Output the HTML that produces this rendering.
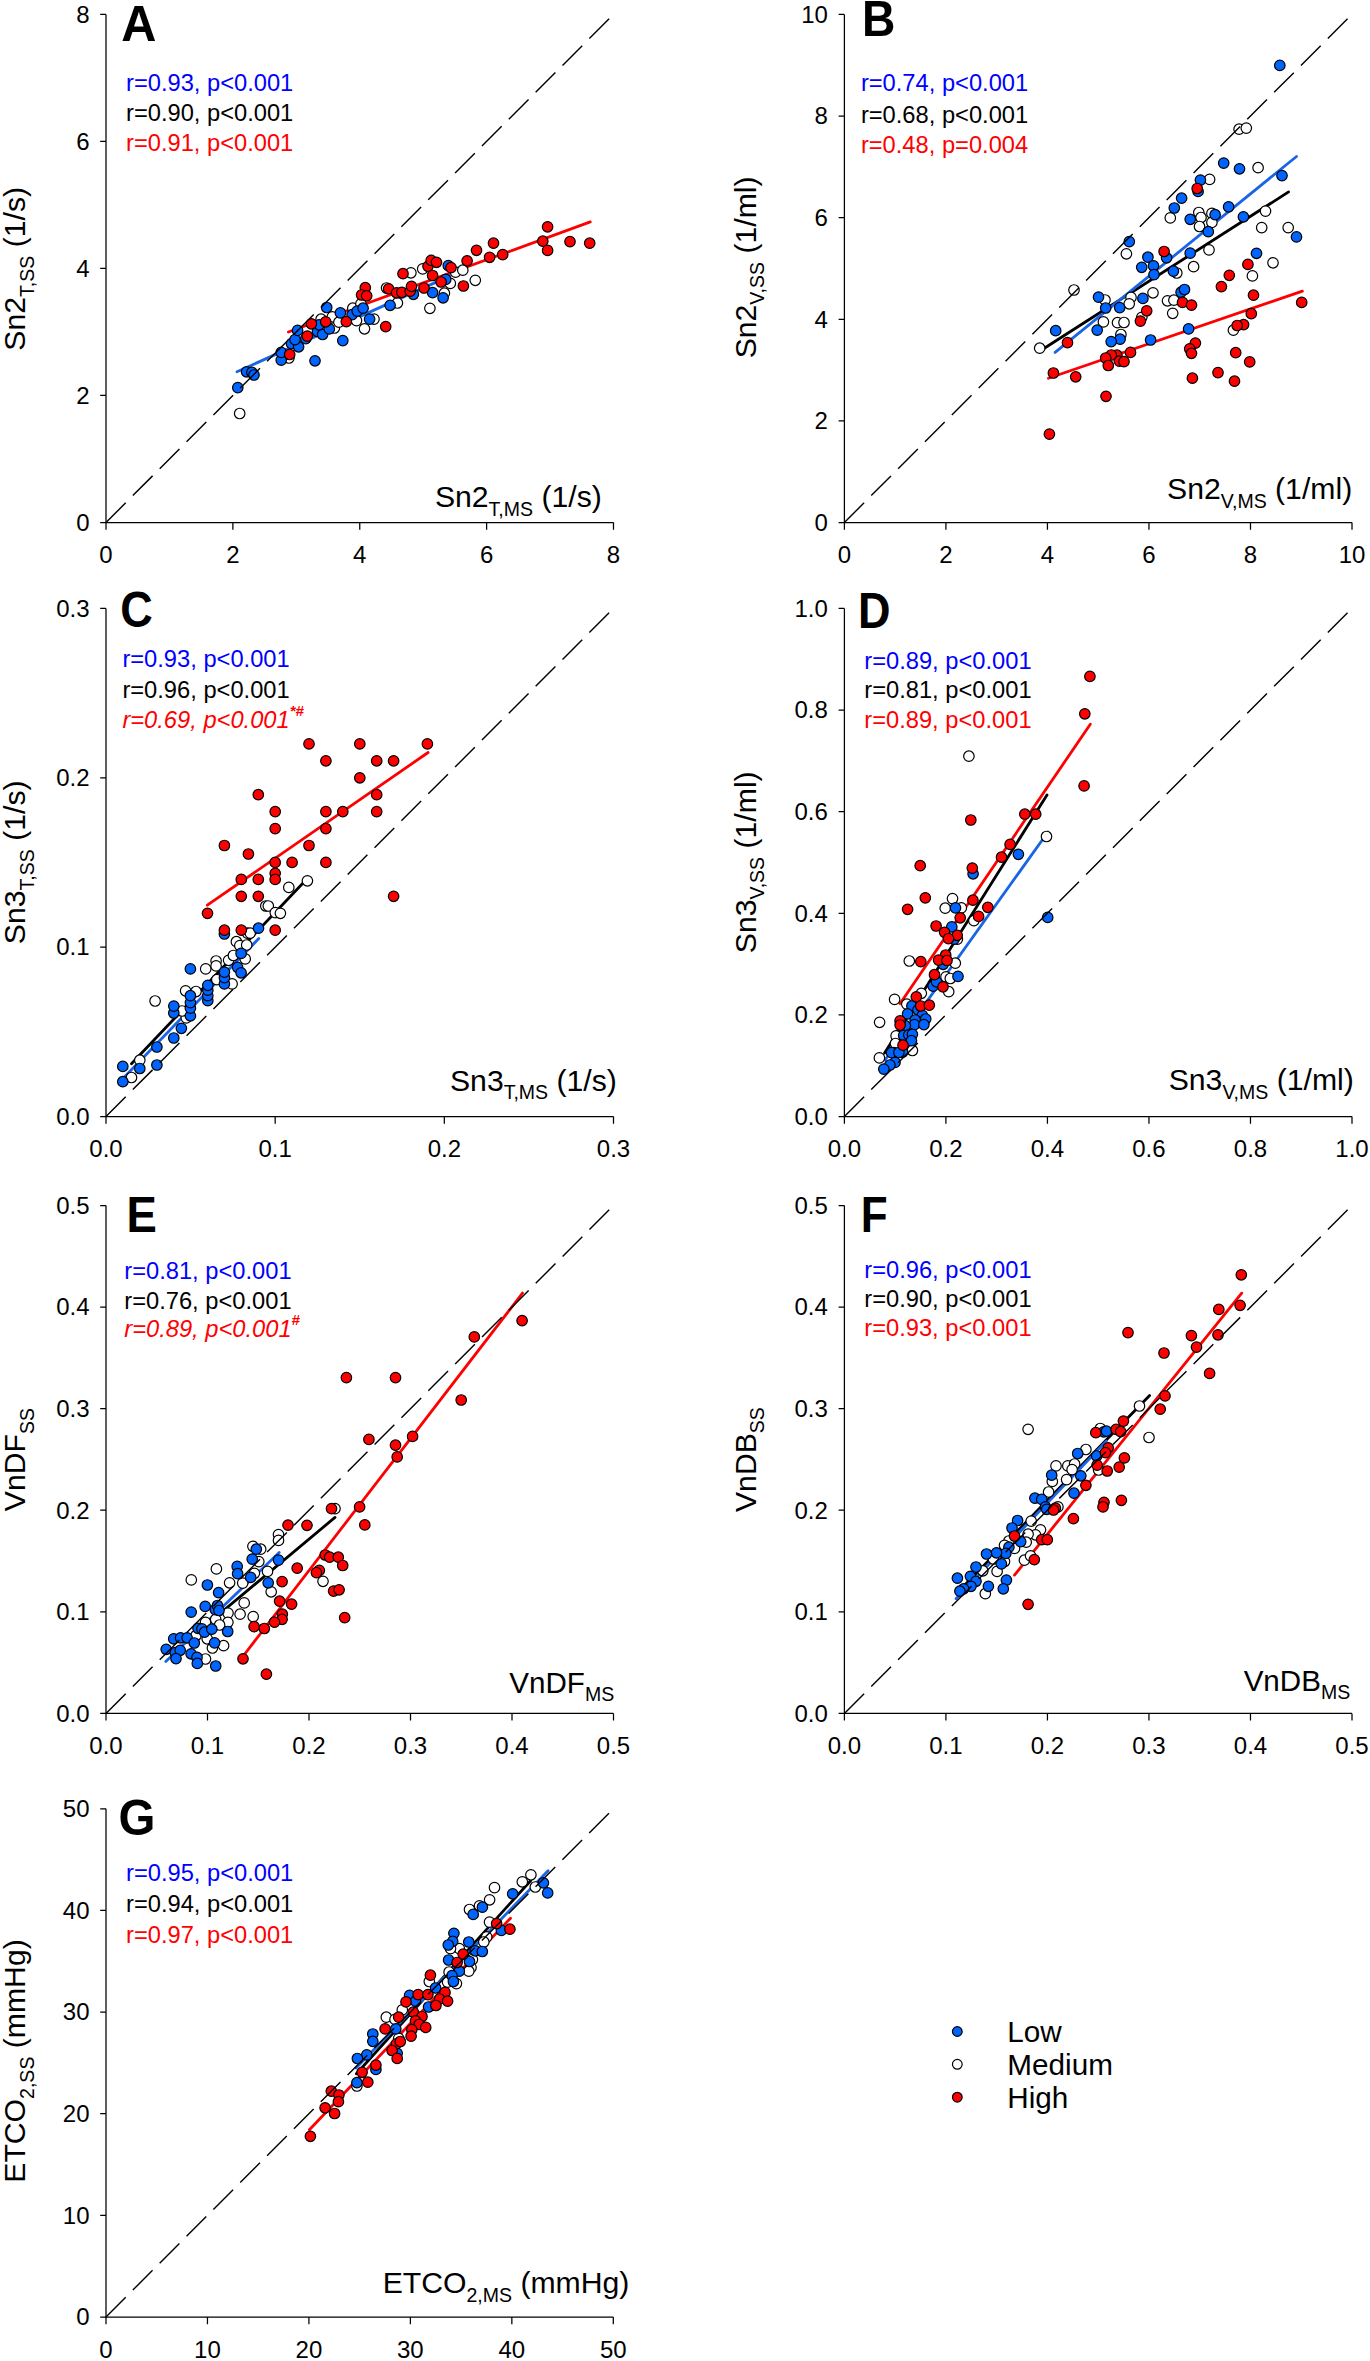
<!DOCTYPE html>
<html><head><meta charset="utf-8"><style>
html,body{margin:0;padding:0;background:#fff;}
svg{display:block;}
text{font-family:"Liberation Sans", sans-serif;}
</style></head><body>
<svg width="1370" height="2361" viewBox="0 0 1370 2361" font-family='"Liberation Sans", sans-serif'>
<rect width="1370" height="2361" fill="#fff"/>
<path d="M106.00,14.40V522.50H613.50" fill="none" stroke="#000" stroke-width="1.25"/>
<path d="M106.00,522.50v7.2M232.88,522.50v7.2M359.75,522.50v7.2M486.62,522.50v7.2M613.50,522.50v7.2M106.00,522.50h-5.8M106.00,395.48h-5.8M106.00,268.45h-5.8M106.00,141.42h-5.8M106.00,14.40h-5.8" stroke="#000" stroke-width="1.25" fill="none"/>
<text x="106.00" y="563.00" text-anchor="middle" font-size="24">0</text>
<text x="232.88" y="563.00" text-anchor="middle" font-size="24">2</text>
<text x="359.75" y="563.00" text-anchor="middle" font-size="24">4</text>
<text x="486.62" y="563.00" text-anchor="middle" font-size="24">6</text>
<text x="613.50" y="563.00" text-anchor="middle" font-size="24">8</text>
<text x="89.50" y="530.80" text-anchor="end" font-size="24">0</text>
<text x="89.50" y="403.78" text-anchor="end" font-size="24">2</text>
<text x="89.50" y="276.75" text-anchor="end" font-size="24">4</text>
<text x="89.50" y="149.72" text-anchor="end" font-size="24">6</text>
<text x="89.50" y="22.70" text-anchor="end" font-size="24">8</text>
<line x1="237.00" y1="371.80" x2="449.60" y2="276.10" stroke="#1a64e6" stroke-width="2.8" stroke-linecap="round"/>
<line x1="288.40" y1="332.00" x2="590.30" y2="221.90" stroke="#ff0000" stroke-width="2.8" stroke-linecap="round"/>
<g stroke="#000" stroke-width="1.2"><circle cx="239.7" cy="413.5" r="5.25" fill="#fff"/><circle cx="288.9" cy="358.0" r="5.25" fill="#fff"/><circle cx="321.1" cy="319.2" r="5.25" fill="#fff"/><circle cx="332.3" cy="316.8" r="5.25" fill="#fff"/><circle cx="334.4" cy="328.0" r="5.25" fill="#fff"/><circle cx="338.9" cy="322.2" r="5.25" fill="#fff"/><circle cx="352.8" cy="308.2" r="5.25" fill="#fff"/><circle cx="356.5" cy="320.6" r="5.25" fill="#fff"/><circle cx="360.9" cy="303.8" r="5.25" fill="#fff"/><circle cx="374.0" cy="319.1" r="5.25" fill="#fff"/><circle cx="364.5" cy="328.8" r="5.25" fill="#fff"/><circle cx="386.6" cy="288.0" r="5.25" fill="#fff"/><circle cx="397.4" cy="303.0" r="5.25" fill="#fff"/><circle cx="410.9" cy="272.8" r="5.25" fill="#fff"/><circle cx="422.7" cy="268.9" r="5.25" fill="#fff"/><circle cx="429.9" cy="308.3" r="5.25" fill="#fff"/><circle cx="444.4" cy="293.2" r="5.25" fill="#fff"/><circle cx="450.3" cy="283.4" r="5.25" fill="#fff"/><circle cx="455.5" cy="272.2" r="5.25" fill="#fff"/><circle cx="462.8" cy="270.2" r="5.25" fill="#fff"/><circle cx="475.3" cy="280.3" r="5.25" fill="#fff"/><circle cx="237.8" cy="387.6" r="5.25" fill="#0064ff"/><circle cx="246.6" cy="371.8" r="5.25" fill="#0064ff"/><circle cx="251.9" cy="372.4" r="5.25" fill="#0064ff"/><circle cx="254.0" cy="375.0" r="5.25" fill="#0064ff"/><circle cx="281.2" cy="360.1" r="5.25" fill="#0064ff"/><circle cx="281.2" cy="352.4" r="5.25" fill="#0064ff"/><circle cx="291.5" cy="343.7" r="5.25" fill="#0064ff"/><circle cx="298.6" cy="346.8" r="5.25" fill="#0064ff"/><circle cx="295.0" cy="339.6" r="5.25" fill="#0064ff"/><circle cx="297.6" cy="330.4" r="5.25" fill="#0064ff"/><circle cx="305.8" cy="338.6" r="5.25" fill="#0064ff"/><circle cx="317.5" cy="331.5" r="5.25" fill="#0064ff"/><circle cx="322.6" cy="334.5" r="5.25" fill="#0064ff"/><circle cx="319.1" cy="324.8" r="5.25" fill="#0064ff"/><circle cx="329.3" cy="328.9" r="5.25" fill="#0064ff"/><circle cx="315.0" cy="360.8" r="5.25" fill="#0064ff"/><circle cx="326.7" cy="307.5" r="5.25" fill="#0064ff"/><circle cx="340.4" cy="312.9" r="5.25" fill="#0064ff"/><circle cx="342.8" cy="340.6" r="5.25" fill="#0064ff"/><circle cx="352.1" cy="314.7" r="5.25" fill="#0064ff"/><circle cx="357.2" cy="311.1" r="5.25" fill="#0064ff"/><circle cx="363.1" cy="308.2" r="5.25" fill="#0064ff"/><circle cx="369.6" cy="319.1" r="5.25" fill="#0064ff"/><circle cx="390.1" cy="305.3" r="5.25" fill="#0064ff"/><circle cx="413.4" cy="294.3" r="5.25" fill="#0064ff"/><circle cx="432.6" cy="292.6" r="5.25" fill="#0064ff"/><circle cx="443.1" cy="297.8" r="5.25" fill="#0064ff"/><circle cx="445.7" cy="279.4" r="5.25" fill="#0064ff"/><circle cx="448.3" cy="265.6" r="5.25" fill="#0064ff"/><circle cx="289.7" cy="354.5" r="5.25" fill="#ff0000"/><circle cx="307.3" cy="336.1" r="5.25" fill="#ff0000"/><circle cx="311.4" cy="323.8" r="5.25" fill="#ff0000"/><circle cx="325.7" cy="321.8" r="5.25" fill="#ff0000"/><circle cx="346.3" cy="321.7" r="5.25" fill="#ff0000"/><circle cx="365.3" cy="287.7" r="5.25" fill="#ff0000"/><circle cx="361.6" cy="295.0" r="5.25" fill="#ff0000"/><circle cx="366.7" cy="295.8" r="5.25" fill="#ff0000"/><circle cx="385.7" cy="326.6" r="5.25" fill="#ff0000"/><circle cx="388.6" cy="288.8" r="5.25" fill="#ff0000"/><circle cx="396.6" cy="292.8" r="5.25" fill="#ff0000"/><circle cx="401.8" cy="292.3" r="5.25" fill="#ff0000"/><circle cx="410.2" cy="291.2" r="5.25" fill="#ff0000"/><circle cx="411.5" cy="286.3" r="5.25" fill="#ff0000"/><circle cx="403.0" cy="273.7" r="5.25" fill="#ff0000"/><circle cx="424.0" cy="288.0" r="5.25" fill="#ff0000"/><circle cx="428.0" cy="266.3" r="5.25" fill="#ff0000"/><circle cx="431.2" cy="260.4" r="5.25" fill="#ff0000"/><circle cx="436.5" cy="262.3" r="5.25" fill="#ff0000"/><circle cx="432.6" cy="275.5" r="5.25" fill="#ff0000"/><circle cx="441.1" cy="282.0" r="5.25" fill="#ff0000"/><circle cx="451.0" cy="267.6" r="5.25" fill="#ff0000"/><circle cx="463.4" cy="286.0" r="5.25" fill="#ff0000"/><circle cx="467.1" cy="260.8" r="5.25" fill="#ff0000"/><circle cx="476.5" cy="250.3" r="5.25" fill="#ff0000"/><circle cx="489.6" cy="257.3" r="5.25" fill="#ff0000"/><circle cx="493.5" cy="243.2" r="5.25" fill="#ff0000"/><circle cx="502.7" cy="254.6" r="5.25" fill="#ff0000"/><circle cx="542.8" cy="241.2" r="5.25" fill="#ff0000"/><circle cx="547.6" cy="226.8" r="5.25" fill="#ff0000"/><circle cx="547.6" cy="250.4" r="5.25" fill="#ff0000"/><circle cx="570.0" cy="241.6" r="5.25" fill="#ff0000"/><circle cx="589.7" cy="243.2" r="5.25" fill="#ff0000"/></g>
<line x1="106.00" y1="522.50" x2="613.50" y2="14.40" stroke="#000" stroke-width="1.42" stroke-dasharray="27.9 10.1"/>
<path d="M844.40,14.40V522.50H1352.00" fill="none" stroke="#000" stroke-width="1.25"/>
<path d="M844.40,522.50v7.2M945.92,522.50v7.2M1047.44,522.50v7.2M1148.96,522.50v7.2M1250.48,522.50v7.2M1352.00,522.50v7.2M844.40,522.50h-5.8M844.40,420.88h-5.8M844.40,319.26h-5.8M844.40,217.64h-5.8M844.40,116.02h-5.8M844.40,14.40h-5.8" stroke="#000" stroke-width="1.25" fill="none"/>
<text x="844.40" y="563.00" text-anchor="middle" font-size="24">0</text>
<text x="945.92" y="563.00" text-anchor="middle" font-size="24">2</text>
<text x="1047.44" y="563.00" text-anchor="middle" font-size="24">4</text>
<text x="1148.96" y="563.00" text-anchor="middle" font-size="24">6</text>
<text x="1250.48" y="563.00" text-anchor="middle" font-size="24">8</text>
<text x="1352.00" y="563.00" text-anchor="middle" font-size="24">10</text>
<text x="827.90" y="530.80" text-anchor="end" font-size="24">0</text>
<text x="827.90" y="429.18" text-anchor="end" font-size="24">2</text>
<text x="827.90" y="327.56" text-anchor="end" font-size="24">4</text>
<text x="827.90" y="225.94" text-anchor="end" font-size="24">6</text>
<text x="827.90" y="124.32" text-anchor="end" font-size="24">8</text>
<text x="827.90" y="22.70" text-anchor="end" font-size="24">10</text>
<line x1="1044.30" y1="348.20" x2="1288.60" y2="191.90" stroke="#000" stroke-width="2.8" stroke-linecap="round"/>
<line x1="1055.10" y1="352.40" x2="1296.50" y2="156.50" stroke="#1a64e6" stroke-width="2.8" stroke-linecap="round"/>
<line x1="1048.40" y1="378.20" x2="1302.40" y2="291.10" stroke="#ff0000" stroke-width="2.8" stroke-linecap="round"/>
<g stroke="#000" stroke-width="1.2"><circle cx="1239.1" cy="129.2" r="5.25" fill="#fff"/><circle cx="1246.3" cy="128.1" r="5.25" fill="#fff"/><circle cx="1258.1" cy="167.7" r="5.25" fill="#fff"/><circle cx="1209.6" cy="179.4" r="5.25" fill="#fff"/><circle cx="1170.3" cy="217.9" r="5.25" fill="#fff"/><circle cx="1198.8" cy="212.5" r="5.25" fill="#fff"/><circle cx="1201.0" cy="217.5" r="5.25" fill="#fff"/><circle cx="1211.9" cy="213.4" r="5.25" fill="#fff"/><circle cx="1211.9" cy="222.4" r="5.25" fill="#fff"/><circle cx="1199.5" cy="226.5" r="5.25" fill="#fff"/><circle cx="1265.5" cy="211.1" r="5.25" fill="#fff"/><circle cx="1261.7" cy="227.6" r="5.25" fill="#fff"/><circle cx="1288.2" cy="227.6" r="5.25" fill="#fff"/><circle cx="1126.4" cy="253.8" r="5.25" fill="#fff"/><circle cx="1176.8" cy="273.0" r="5.25" fill="#fff"/><circle cx="1193.6" cy="266.7" r="5.25" fill="#fff"/><circle cx="1209.0" cy="249.9" r="5.25" fill="#fff"/><circle cx="1273.0" cy="262.8" r="5.25" fill="#fff"/><circle cx="1252.4" cy="275.9" r="5.25" fill="#fff"/><circle cx="1233.4" cy="330.2" r="5.25" fill="#fff"/><circle cx="1167.5" cy="300.8" r="5.25" fill="#fff"/><circle cx="1173.9" cy="300.2" r="5.25" fill="#fff"/><circle cx="1172.7" cy="313.3" r="5.25" fill="#fff"/><circle cx="1153.0" cy="292.8" r="5.25" fill="#fff"/><circle cx="1141.8" cy="317.3" r="5.25" fill="#fff"/><circle cx="1131.0" cy="297.4" r="5.25" fill="#fff"/><circle cx="1129.2" cy="303.8" r="5.25" fill="#fff"/><circle cx="1105.0" cy="300.0" r="5.25" fill="#fff"/><circle cx="1103.4" cy="321.9" r="5.25" fill="#fff"/><circle cx="1117.5" cy="322.7" r="5.25" fill="#fff"/><circle cx="1124.0" cy="322.5" r="5.25" fill="#fff"/><circle cx="1120.9" cy="334.5" r="5.25" fill="#fff"/><circle cx="1074.0" cy="290.0" r="5.25" fill="#fff"/><circle cx="1039.7" cy="348.2" r="5.25" fill="#fff"/><circle cx="1279.8" cy="65.4" r="5.25" fill="#0064ff"/><circle cx="1223.7" cy="163.1" r="5.25" fill="#0064ff"/><circle cx="1239.5" cy="168.8" r="5.25" fill="#0064ff"/><circle cx="1282.0" cy="175.6" r="5.25" fill="#0064ff"/><circle cx="1200.4" cy="180.1" r="5.25" fill="#0064ff"/><circle cx="1198.1" cy="191.4" r="5.25" fill="#0064ff"/><circle cx="1181.6" cy="198.2" r="5.25" fill="#0064ff"/><circle cx="1174.3" cy="208.0" r="5.25" fill="#0064ff"/><circle cx="1215.1" cy="214.7" r="5.25" fill="#0064ff"/><circle cx="1228.6" cy="206.8" r="5.25" fill="#0064ff"/><circle cx="1190.2" cy="219.3" r="5.25" fill="#0064ff"/><circle cx="1208.3" cy="231.7" r="5.25" fill="#0064ff"/><circle cx="1243.4" cy="216.8" r="5.25" fill="#0064ff"/><circle cx="1296.5" cy="236.9" r="5.25" fill="#0064ff"/><circle cx="1129.3" cy="241.6" r="5.25" fill="#0064ff"/><circle cx="1147.9" cy="257.2" r="5.25" fill="#0064ff"/><circle cx="1166.6" cy="257.8" r="5.25" fill="#0064ff"/><circle cx="1141.7" cy="267.3" r="5.25" fill="#0064ff"/><circle cx="1153.5" cy="265.8" r="5.25" fill="#0064ff"/><circle cx="1154.0" cy="274.6" r="5.25" fill="#0064ff"/><circle cx="1173.4" cy="271.2" r="5.25" fill="#0064ff"/><circle cx="1190.2" cy="253.1" r="5.25" fill="#0064ff"/><circle cx="1256.5" cy="253.3" r="5.25" fill="#0064ff"/><circle cx="1188.6" cy="328.9" r="5.25" fill="#0064ff"/><circle cx="1181.1" cy="292.2" r="5.25" fill="#0064ff"/><circle cx="1184.5" cy="289.5" r="5.25" fill="#0064ff"/><circle cx="1142.9" cy="298.4" r="5.25" fill="#0064ff"/><circle cx="1119.7" cy="307.6" r="5.25" fill="#0064ff"/><circle cx="1105.7" cy="308.0" r="5.25" fill="#0064ff"/><circle cx="1098.5" cy="297.1" r="5.25" fill="#0064ff"/><circle cx="1097.2" cy="330.1" r="5.25" fill="#0064ff"/><circle cx="1120.1" cy="339.2" r="5.25" fill="#0064ff"/><circle cx="1111.2" cy="341.6" r="5.25" fill="#0064ff"/><circle cx="1150.6" cy="340.0" r="5.25" fill="#0064ff"/><circle cx="1055.7" cy="330.7" r="5.25" fill="#0064ff"/><circle cx="1197.2" cy="188.5" r="5.25" fill="#ff0000"/><circle cx="1164.1" cy="251.5" r="5.25" fill="#ff0000"/><circle cx="1247.9" cy="264.4" r="5.25" fill="#ff0000"/><circle cx="1229.3" cy="275.3" r="5.25" fill="#ff0000"/><circle cx="1221.4" cy="286.6" r="5.25" fill="#ff0000"/><circle cx="1253.5" cy="295.2" r="5.25" fill="#ff0000"/><circle cx="1301.7" cy="302.4" r="5.25" fill="#ff0000"/><circle cx="1251.3" cy="313.7" r="5.25" fill="#ff0000"/><circle cx="1243.6" cy="324.6" r="5.25" fill="#ff0000"/><circle cx="1237.2" cy="325.5" r="5.25" fill="#ff0000"/><circle cx="1182.5" cy="302.4" r="5.25" fill="#ff0000"/><circle cx="1191.5" cy="305.1" r="5.25" fill="#ff0000"/><circle cx="1146.7" cy="310.8" r="5.25" fill="#ff0000"/><circle cx="1140.4" cy="321.1" r="5.25" fill="#ff0000"/><circle cx="1067.5" cy="342.7" r="5.25" fill="#ff0000"/><circle cx="1130.5" cy="352.4" r="5.25" fill="#ff0000"/><circle cx="1116.9" cy="355.2" r="5.25" fill="#ff0000"/><circle cx="1111.3" cy="355.0" r="5.25" fill="#ff0000"/><circle cx="1105.7" cy="358.0" r="5.25" fill="#ff0000"/><circle cx="1119.4" cy="361.2" r="5.25" fill="#ff0000"/><circle cx="1124.0" cy="361.6" r="5.25" fill="#ff0000"/><circle cx="1108.3" cy="365.5" r="5.25" fill="#ff0000"/><circle cx="1053.4" cy="373.0" r="5.25" fill="#ff0000"/><circle cx="1075.7" cy="376.8" r="5.25" fill="#ff0000"/><circle cx="1106.0" cy="396.3" r="5.25" fill="#ff0000"/><circle cx="1049.4" cy="434.1" r="5.25" fill="#ff0000"/><circle cx="1195.4" cy="343.1" r="5.25" fill="#ff0000"/><circle cx="1189.7" cy="348.8" r="5.25" fill="#ff0000"/><circle cx="1191.5" cy="353.3" r="5.25" fill="#ff0000"/><circle cx="1235.7" cy="352.7" r="5.25" fill="#ff0000"/><circle cx="1249.7" cy="361.9" r="5.25" fill="#ff0000"/><circle cx="1218.0" cy="372.6" r="5.25" fill="#ff0000"/><circle cx="1192.4" cy="378.2" r="5.25" fill="#ff0000"/><circle cx="1234.5" cy="381.2" r="5.25" fill="#ff0000"/></g>
<line x1="844.40" y1="522.50" x2="1352.00" y2="14.40" stroke="#000" stroke-width="1.42" stroke-dasharray="27.9 10.1"/>
<path d="M106.00,608.40V1116.50H613.50" fill="none" stroke="#000" stroke-width="1.25"/>
<path d="M106.00,1116.50v7.2M275.17,1116.50v7.2M444.33,1116.50v7.2M613.50,1116.50v7.2M106.00,1116.50h-5.8M106.00,947.13h-5.8M106.00,777.77h-5.8M106.00,608.40h-5.8" stroke="#000" stroke-width="1.25" fill="none"/>
<text x="106.00" y="1157.00" text-anchor="middle" font-size="24">0.0</text>
<text x="275.17" y="1157.00" text-anchor="middle" font-size="24">0.1</text>
<text x="444.33" y="1157.00" text-anchor="middle" font-size="24">0.2</text>
<text x="613.50" y="1157.00" text-anchor="middle" font-size="24">0.3</text>
<text x="89.50" y="1124.80" text-anchor="end" font-size="24">0.0</text>
<text x="89.50" y="955.43" text-anchor="end" font-size="24">0.1</text>
<text x="89.50" y="786.07" text-anchor="end" font-size="24">0.2</text>
<text x="89.50" y="616.70" text-anchor="end" font-size="24">0.3</text>
<line x1="131.50" y1="1063.70" x2="304.00" y2="882.00" stroke="#000" stroke-width="2.8" stroke-linecap="round"/>
<line x1="123.90" y1="1077.50" x2="258.80" y2="938.50" stroke="#1a64e6" stroke-width="2.8" stroke-linecap="round"/>
<line x1="207.30" y1="905.20" x2="428.10" y2="752.50" stroke="#ff0000" stroke-width="2.8" stroke-linecap="round"/>
<g stroke="#000" stroke-width="1.2"><circle cx="131.5" cy="1077.5" r="5.25" fill="#fff"/><circle cx="139.8" cy="1060.2" r="5.25" fill="#fff"/><circle cx="155.1" cy="1001.0" r="5.25" fill="#fff"/><circle cx="185.6" cy="990.8" r="5.25" fill="#fff"/><circle cx="196.0" cy="991.5" r="5.25" fill="#fff"/><circle cx="186.3" cy="1017.9" r="5.25" fill="#fff"/><circle cx="182.1" cy="1011.0" r="5.25" fill="#fff"/><circle cx="205.7" cy="968.9" r="5.25" fill="#fff"/><circle cx="216.1" cy="961.0" r="5.25" fill="#fff"/><circle cx="216.1" cy="965.9" r="5.25" fill="#fff"/><circle cx="216.8" cy="979.7" r="5.25" fill="#fff"/><circle cx="228.6" cy="960.3" r="5.25" fill="#fff"/><circle cx="233.4" cy="955.5" r="5.25" fill="#fff"/><circle cx="232.1" cy="983.9" r="5.25" fill="#fff"/><circle cx="245.2" cy="958.9" r="5.25" fill="#fff"/><circle cx="236.4" cy="941.7" r="5.25" fill="#fff"/><circle cx="239.8" cy="945.6" r="5.25" fill="#fff"/><circle cx="246.7" cy="945.0" r="5.25" fill="#fff"/><circle cx="247.4" cy="933.1" r="5.25" fill="#fff"/><circle cx="250.2" cy="933.1" r="5.25" fill="#fff"/><circle cx="265.8" cy="906.0" r="5.25" fill="#fff"/><circle cx="268.3" cy="906.0" r="5.25" fill="#fff"/><circle cx="275.3" cy="912.6" r="5.25" fill="#fff"/><circle cx="280.4" cy="913.3" r="5.25" fill="#fff"/><circle cx="288.8" cy="887.4" r="5.25" fill="#fff"/><circle cx="307.4" cy="880.8" r="5.25" fill="#fff"/><circle cx="122.8" cy="1081.7" r="5.25" fill="#0064ff"/><circle cx="122.8" cy="1066.4" r="5.25" fill="#0064ff"/><circle cx="139.8" cy="1068.5" r="5.25" fill="#0064ff"/><circle cx="156.9" cy="1065.0" r="5.25" fill="#0064ff"/><circle cx="156.9" cy="1047.0" r="5.25" fill="#0064ff"/><circle cx="173.8" cy="1038.0" r="5.25" fill="#0064ff"/><circle cx="181.4" cy="1028.3" r="5.25" fill="#0064ff"/><circle cx="173.8" cy="1013.0" r="5.25" fill="#0064ff"/><circle cx="173.8" cy="1006.1" r="5.25" fill="#0064ff"/><circle cx="190.4" cy="1015.8" r="5.25" fill="#0064ff"/><circle cx="190.4" cy="1008.2" r="5.25" fill="#0064ff"/><circle cx="190.4" cy="1002.6" r="5.25" fill="#0064ff"/><circle cx="190.4" cy="995.7" r="5.25" fill="#0064ff"/><circle cx="190.4" cy="968.9" r="5.25" fill="#0064ff"/><circle cx="207.8" cy="1000.6" r="5.25" fill="#0064ff"/><circle cx="207.8" cy="995.7" r="5.25" fill="#0064ff"/><circle cx="207.8" cy="990.2" r="5.25" fill="#0064ff"/><circle cx="207.8" cy="985.3" r="5.25" fill="#0064ff"/><circle cx="224.4" cy="983.9" r="5.25" fill="#0064ff"/><circle cx="224.4" cy="977.7" r="5.25" fill="#0064ff"/><circle cx="224.4" cy="972.1" r="5.25" fill="#0064ff"/><circle cx="224.4" cy="934.0" r="5.25" fill="#0064ff"/><circle cx="237.6" cy="967.3" r="5.25" fill="#0064ff"/><circle cx="241.1" cy="972.8" r="5.25" fill="#0064ff"/><circle cx="241.1" cy="953.4" r="5.25" fill="#0064ff"/><circle cx="258.5" cy="928.2" r="5.25" fill="#0064ff"/><circle cx="309.0" cy="743.9" r="5.25" fill="#ff0000"/><circle cx="359.8" cy="743.9" r="5.25" fill="#ff0000"/><circle cx="427.4" cy="743.9" r="5.25" fill="#ff0000"/><circle cx="325.9" cy="760.8" r="5.25" fill="#ff0000"/><circle cx="376.7" cy="760.8" r="5.25" fill="#ff0000"/><circle cx="393.6" cy="760.8" r="5.25" fill="#ff0000"/><circle cx="359.8" cy="777.8" r="5.25" fill="#ff0000"/><circle cx="258.3" cy="794.7" r="5.25" fill="#ff0000"/><circle cx="376.7" cy="794.7" r="5.25" fill="#ff0000"/><circle cx="275.2" cy="811.6" r="5.25" fill="#ff0000"/><circle cx="325.9" cy="811.6" r="5.25" fill="#ff0000"/><circle cx="342.8" cy="811.6" r="5.25" fill="#ff0000"/><circle cx="376.7" cy="811.6" r="5.25" fill="#ff0000"/><circle cx="275.2" cy="828.6" r="5.25" fill="#ff0000"/><circle cx="325.9" cy="828.6" r="5.25" fill="#ff0000"/><circle cx="224.4" cy="845.5" r="5.25" fill="#ff0000"/><circle cx="309.0" cy="845.5" r="5.25" fill="#ff0000"/><circle cx="248.4" cy="854.0" r="5.25" fill="#ff0000"/><circle cx="275.2" cy="862.4" r="5.25" fill="#ff0000"/><circle cx="292.1" cy="862.4" r="5.25" fill="#ff0000"/><circle cx="325.9" cy="862.4" r="5.25" fill="#ff0000"/><circle cx="275.2" cy="873.3" r="5.25" fill="#ff0000"/><circle cx="275.2" cy="879.4" r="5.25" fill="#ff0000"/><circle cx="241.3" cy="879.4" r="5.25" fill="#ff0000"/><circle cx="258.3" cy="879.4" r="5.25" fill="#ff0000"/><circle cx="241.3" cy="896.3" r="5.25" fill="#ff0000"/><circle cx="258.3" cy="896.3" r="5.25" fill="#ff0000"/><circle cx="393.6" cy="896.3" r="5.25" fill="#ff0000"/><circle cx="207.5" cy="913.3" r="5.25" fill="#ff0000"/><circle cx="224.4" cy="930.2" r="5.25" fill="#ff0000"/><circle cx="241.3" cy="930.2" r="5.25" fill="#ff0000"/><circle cx="275.2" cy="930.2" r="5.25" fill="#ff0000"/></g>
<line x1="106.00" y1="1116.50" x2="613.50" y2="608.40" stroke="#000" stroke-width="1.42" stroke-dasharray="27.9 10.1"/>
<path d="M844.40,608.40V1116.50H1352.00" fill="none" stroke="#000" stroke-width="1.25"/>
<path d="M844.40,1116.50v7.2M945.92,1116.50v7.2M1047.44,1116.50v7.2M1148.96,1116.50v7.2M1250.48,1116.50v7.2M1352.00,1116.50v7.2M844.40,1116.50h-5.8M844.40,1014.88h-5.8M844.40,913.26h-5.8M844.40,811.64h-5.8M844.40,710.02h-5.8M844.40,608.40h-5.8" stroke="#000" stroke-width="1.25" fill="none"/>
<text x="844.40" y="1157.00" text-anchor="middle" font-size="24">0.0</text>
<text x="945.92" y="1157.00" text-anchor="middle" font-size="24">0.2</text>
<text x="1047.44" y="1157.00" text-anchor="middle" font-size="24">0.4</text>
<text x="1148.96" y="1157.00" text-anchor="middle" font-size="24">0.6</text>
<text x="1250.48" y="1157.00" text-anchor="middle" font-size="24">0.8</text>
<text x="1352.00" y="1157.00" text-anchor="middle" font-size="24">1.0</text>
<text x="827.90" y="1124.80" text-anchor="end" font-size="24">0.0</text>
<text x="827.90" y="1023.18" text-anchor="end" font-size="24">0.2</text>
<text x="827.90" y="921.56" text-anchor="end" font-size="24">0.4</text>
<text x="827.90" y="819.94" text-anchor="end" font-size="24">0.6</text>
<text x="827.90" y="718.32" text-anchor="end" font-size="24">0.8</text>
<text x="827.90" y="616.70" text-anchor="end" font-size="24">1.0</text>
<line x1="884.60" y1="1053.00" x2="1047.00" y2="795.00" stroke="#000" stroke-width="2.8" stroke-linecap="round"/>
<line x1="885.00" y1="1060.00" x2="1048.00" y2="832.00" stroke="#1a64e6" stroke-width="2.8" stroke-linecap="round"/>
<line x1="900.00" y1="1003.70" x2="1090.30" y2="724.20" stroke="#ff0000" stroke-width="2.8" stroke-linecap="round"/>
<g stroke="#000" stroke-width="1.2"><circle cx="968.9" cy="756.2" r="5.25" fill="#fff"/><circle cx="1046.5" cy="836.5" r="5.25" fill="#fff"/><circle cx="952.5" cy="898.6" r="5.25" fill="#fff"/><circle cx="945.2" cy="908.2" r="5.25" fill="#fff"/><circle cx="961.3" cy="907.9" r="5.25" fill="#fff"/><circle cx="973.9" cy="920.7" r="5.25" fill="#fff"/><circle cx="957.4" cy="939.1" r="5.25" fill="#fff"/><circle cx="909.3" cy="961.0" r="5.25" fill="#fff"/><circle cx="955.3" cy="963.2" r="5.25" fill="#fff"/><circle cx="946.0" cy="976.9" r="5.25" fill="#fff"/><circle cx="950.3" cy="978.5" r="5.25" fill="#fff"/><circle cx="948.7" cy="991.7" r="5.25" fill="#fff"/><circle cx="921.3" cy="993.3" r="5.25" fill="#fff"/><circle cx="894.6" cy="999.4" r="5.25" fill="#fff"/><circle cx="906.8" cy="1004.2" r="5.25" fill="#fff"/><circle cx="879.6" cy="1022.3" r="5.25" fill="#fff"/><circle cx="896.1" cy="1035.9" r="5.25" fill="#fff"/><circle cx="895.5" cy="1043.5" r="5.25" fill="#fff"/><circle cx="912.4" cy="1050.5" r="5.25" fill="#fff"/><circle cx="879.4" cy="1057.9" r="5.25" fill="#fff"/><circle cx="1018.4" cy="854.3" r="5.25" fill="#0064ff"/><circle cx="973.1" cy="873.8" r="5.25" fill="#0064ff"/><circle cx="1047.7" cy="917.4" r="5.25" fill="#0064ff"/><circle cx="955.5" cy="907.9" r="5.25" fill="#0064ff"/><circle cx="951.8" cy="926.9" r="5.25" fill="#0064ff"/><circle cx="954.2" cy="939.1" r="5.25" fill="#0064ff"/><circle cx="943.2" cy="964.3" r="5.25" fill="#0064ff"/><circle cx="958.0" cy="976.4" r="5.25" fill="#0064ff"/><circle cx="933.1" cy="986.2" r="5.25" fill="#0064ff"/><circle cx="936.6" cy="981.8" r="5.25" fill="#0064ff"/><circle cx="911.9" cy="1006.0" r="5.25" fill="#0064ff"/><circle cx="918.0" cy="1009.8" r="5.25" fill="#0064ff"/><circle cx="907.6" cy="1013.9" r="5.25" fill="#0064ff"/><circle cx="922.4" cy="1015.4" r="5.25" fill="#0064ff"/><circle cx="925.7" cy="1019.0" r="5.25" fill="#0064ff"/><circle cx="915.2" cy="1020.0" r="5.25" fill="#0064ff"/><circle cx="914.5" cy="1024.6" r="5.25" fill="#0064ff"/><circle cx="923.9" cy="1024.6" r="5.25" fill="#0064ff"/><circle cx="905.3" cy="1025.7" r="5.25" fill="#0064ff"/><circle cx="903.7" cy="1035.4" r="5.25" fill="#0064ff"/><circle cx="908.8" cy="1034.9" r="5.25" fill="#0064ff"/><circle cx="912.4" cy="1034.3" r="5.25" fill="#0064ff"/><circle cx="911.4" cy="1040.7" r="5.25" fill="#0064ff"/><circle cx="894.0" cy="1052.7" r="5.25" fill="#0064ff"/><circle cx="891.5" cy="1052.7" r="5.25" fill="#0064ff"/><circle cx="902.7" cy="1052.2" r="5.25" fill="#0064ff"/><circle cx="898.9" cy="1052.5" r="5.25" fill="#0064ff"/><circle cx="895.0" cy="1062.4" r="5.25" fill="#0064ff"/><circle cx="889.9" cy="1065.0" r="5.25" fill="#0064ff"/><circle cx="883.8" cy="1069.1" r="5.25" fill="#0064ff"/><circle cx="1089.9" cy="676.4" r="5.25" fill="#ff0000"/><circle cx="1084.8" cy="713.8" r="5.25" fill="#ff0000"/><circle cx="1084.1" cy="785.9" r="5.25" fill="#ff0000"/><circle cx="970.8" cy="820.0" r="5.25" fill="#ff0000"/><circle cx="1024.8" cy="814.2" r="5.25" fill="#ff0000"/><circle cx="1035.7" cy="814.2" r="5.25" fill="#ff0000"/><circle cx="1010.1" cy="844.4" r="5.25" fill="#ff0000"/><circle cx="1001.5" cy="857.2" r="5.25" fill="#ff0000"/><circle cx="920.2" cy="865.7" r="5.25" fill="#ff0000"/><circle cx="972.3" cy="868.1" r="5.25" fill="#ff0000"/><circle cx="925.3" cy="897.8" r="5.25" fill="#ff0000"/><circle cx="972.9" cy="900.2" r="5.25" fill="#ff0000"/><circle cx="907.6" cy="909.3" r="5.25" fill="#ff0000"/><circle cx="987.8" cy="907.3" r="5.25" fill="#ff0000"/><circle cx="960.2" cy="917.8" r="5.25" fill="#ff0000"/><circle cx="978.6" cy="916.4" r="5.25" fill="#ff0000"/><circle cx="936.1" cy="926.0" r="5.25" fill="#ff0000"/><circle cx="944.6" cy="932.3" r="5.25" fill="#ff0000"/><circle cx="957.2" cy="935.3" r="5.25" fill="#ff0000"/><circle cx="948.5" cy="938.6" r="5.25" fill="#ff0000"/><circle cx="920.8" cy="961.6" r="5.25" fill="#ff0000"/><circle cx="945.7" cy="955.0" r="5.25" fill="#ff0000"/><circle cx="938.6" cy="960.1" r="5.25" fill="#ff0000"/><circle cx="947.0" cy="960.5" r="5.25" fill="#ff0000"/><circle cx="934.5" cy="974.7" r="5.25" fill="#ff0000"/><circle cx="943.0" cy="986.8" r="5.25" fill="#ff0000"/><circle cx="916.3" cy="996.8" r="5.25" fill="#ff0000"/><circle cx="920.7" cy="1006.0" r="5.25" fill="#ff0000"/><circle cx="929.3" cy="1005.2" r="5.25" fill="#ff0000"/><circle cx="900.1" cy="1020.9" r="5.25" fill="#ff0000"/><circle cx="900.1" cy="1025.0" r="5.25" fill="#ff0000"/><circle cx="903.0" cy="1045.2" r="5.25" fill="#ff0000"/></g>
<line x1="844.40" y1="1116.50" x2="1352.00" y2="608.40" stroke="#000" stroke-width="1.42" stroke-dasharray="27.9 10.1"/>
<path d="M106.00,1205.50V1713.40H613.50" fill="none" stroke="#000" stroke-width="1.25"/>
<path d="M106.00,1713.40v7.2M207.50,1713.40v7.2M309.00,1713.40v7.2M410.50,1713.40v7.2M512.00,1713.40v7.2M613.50,1713.40v7.2M106.00,1713.40h-5.8M106.00,1611.82h-5.8M106.00,1510.24h-5.8M106.00,1408.66h-5.8M106.00,1307.08h-5.8M106.00,1205.50h-5.8" stroke="#000" stroke-width="1.25" fill="none"/>
<text x="106.00" y="1753.90" text-anchor="middle" font-size="24">0.0</text>
<text x="207.50" y="1753.90" text-anchor="middle" font-size="24">0.1</text>
<text x="309.00" y="1753.90" text-anchor="middle" font-size="24">0.2</text>
<text x="410.50" y="1753.90" text-anchor="middle" font-size="24">0.3</text>
<text x="512.00" y="1753.90" text-anchor="middle" font-size="24">0.4</text>
<text x="613.50" y="1753.90" text-anchor="middle" font-size="24">0.5</text>
<text x="89.50" y="1721.70" text-anchor="end" font-size="24">0.0</text>
<text x="89.50" y="1620.12" text-anchor="end" font-size="24">0.1</text>
<text x="89.50" y="1518.54" text-anchor="end" font-size="24">0.2</text>
<text x="89.50" y="1416.96" text-anchor="end" font-size="24">0.3</text>
<text x="89.50" y="1315.38" text-anchor="end" font-size="24">0.4</text>
<text x="89.50" y="1213.80" text-anchor="end" font-size="24">0.5</text>
<line x1="185.00" y1="1642.80" x2="335.00" y2="1517.40" stroke="#000" stroke-width="2.8" stroke-linecap="round"/>
<line x1="165.80" y1="1661.40" x2="279.20" y2="1552.40" stroke="#1a64e6" stroke-width="2.8" stroke-linecap="round"/>
<line x1="244.00" y1="1655.00" x2="522.50" y2="1293.10" stroke="#ff0000" stroke-width="2.8" stroke-linecap="round"/>
<g stroke="#000" stroke-width="1.2"><circle cx="216.4" cy="1568.9" r="5.25" fill="#fff"/><circle cx="191.3" cy="1579.9" r="5.25" fill="#fff"/><circle cx="229.6" cy="1582.8" r="5.25" fill="#fff"/><circle cx="242.7" cy="1583.1" r="5.25" fill="#fff"/><circle cx="252.9" cy="1546.3" r="5.25" fill="#fff"/><circle cx="260.7" cy="1549.2" r="5.25" fill="#fff"/><circle cx="258.8" cy="1561.6" r="5.25" fill="#fff"/><circle cx="254.4" cy="1573.3" r="5.25" fill="#fff"/><circle cx="267.5" cy="1571.4" r="5.25" fill="#fff"/><circle cx="271.2" cy="1591.8" r="5.25" fill="#fff"/><circle cx="278.5" cy="1534.6" r="5.25" fill="#fff"/><circle cx="278.5" cy="1540.4" r="5.25" fill="#fff"/><circle cx="244.2" cy="1602.9" r="5.25" fill="#fff"/><circle cx="240.1" cy="1614.2" r="5.25" fill="#fff"/><circle cx="228.0" cy="1613.1" r="5.25" fill="#fff"/><circle cx="253.2" cy="1616.6" r="5.25" fill="#fff"/><circle cx="323.0" cy="1581.3" r="5.25" fill="#fff"/><circle cx="215.7" cy="1619.4" r="5.25" fill="#fff"/><circle cx="205.5" cy="1622.3" r="5.25" fill="#fff"/><circle cx="227.9" cy="1622.3" r="5.25" fill="#fff"/><circle cx="196.0" cy="1635.5" r="5.25" fill="#fff"/><circle cx="207.2" cy="1638.8" r="5.25" fill="#fff"/><circle cx="212.4" cy="1648.0" r="5.25" fill="#fff"/><circle cx="223.6" cy="1645.7" r="5.25" fill="#fff"/><circle cx="205.5" cy="1659.0" r="5.25" fill="#fff"/><circle cx="219.6" cy="1625.0" r="5.25" fill="#fff"/><circle cx="335.0" cy="1508.6" r="5.25" fill="#fff"/><circle cx="256.3" cy="1549.2" r="5.25" fill="#0064ff"/><circle cx="252.2" cy="1559.1" r="5.25" fill="#0064ff"/><circle cx="237.2" cy="1566.4" r="5.25" fill="#0064ff"/><circle cx="237.6" cy="1573.7" r="5.25" fill="#0064ff"/><circle cx="250.7" cy="1577.4" r="5.25" fill="#0064ff"/><circle cx="278.5" cy="1560.1" r="5.25" fill="#0064ff"/><circle cx="268.2" cy="1582.8" r="5.25" fill="#0064ff"/><circle cx="207.4" cy="1585.0" r="5.25" fill="#0064ff"/><circle cx="218.6" cy="1592.6" r="5.25" fill="#0064ff"/><circle cx="205.2" cy="1606.4" r="5.25" fill="#0064ff"/><circle cx="215.3" cy="1609.6" r="5.25" fill="#0064ff"/><circle cx="217.5" cy="1605.5" r="5.25" fill="#0064ff"/><circle cx="219.0" cy="1610.5" r="5.25" fill="#0064ff"/><circle cx="191.2" cy="1612.1" r="5.25" fill="#0064ff"/><circle cx="227.7" cy="1631.5" r="5.25" fill="#0064ff"/><circle cx="198.0" cy="1628.3" r="5.25" fill="#0064ff"/><circle cx="201.9" cy="1628.9" r="5.25" fill="#0064ff"/><circle cx="204.5" cy="1632.2" r="5.25" fill="#0064ff"/><circle cx="211.8" cy="1629.2" r="5.25" fill="#0064ff"/><circle cx="173.7" cy="1638.8" r="5.25" fill="#0064ff"/><circle cx="180.6" cy="1637.8" r="5.25" fill="#0064ff"/><circle cx="187.1" cy="1637.8" r="5.25" fill="#0064ff"/><circle cx="194.3" cy="1643.0" r="5.25" fill="#0064ff"/><circle cx="214.6" cy="1642.9" r="5.25" fill="#0064ff"/><circle cx="166.2" cy="1649.3" r="5.25" fill="#0064ff"/><circle cx="175.3" cy="1652.6" r="5.25" fill="#0064ff"/><circle cx="180.2" cy="1650.3" r="5.25" fill="#0064ff"/><circle cx="176.0" cy="1658.6" r="5.25" fill="#0064ff"/><circle cx="191.1" cy="1653.8" r="5.25" fill="#0064ff"/><circle cx="197.0" cy="1657.4" r="5.25" fill="#0064ff"/><circle cx="197.3" cy="1663.4" r="5.25" fill="#0064ff"/><circle cx="215.7" cy="1666.0" r="5.25" fill="#0064ff"/><circle cx="522.1" cy="1320.6" r="5.25" fill="#ff0000"/><circle cx="474.3" cy="1336.9" r="5.25" fill="#ff0000"/><circle cx="346.4" cy="1377.6" r="5.25" fill="#ff0000"/><circle cx="395.5" cy="1377.6" r="5.25" fill="#ff0000"/><circle cx="461.2" cy="1400.0" r="5.25" fill="#ff0000"/><circle cx="368.9" cy="1439.4" r="5.25" fill="#ff0000"/><circle cx="412.6" cy="1436.4" r="5.25" fill="#ff0000"/><circle cx="395.5" cy="1445.2" r="5.25" fill="#ff0000"/><circle cx="397.2" cy="1456.9" r="5.25" fill="#ff0000"/><circle cx="331.5" cy="1508.6" r="5.25" fill="#ff0000"/><circle cx="359.6" cy="1506.9" r="5.25" fill="#ff0000"/><circle cx="307.0" cy="1525.3" r="5.25" fill="#ff0000"/><circle cx="364.8" cy="1524.9" r="5.25" fill="#ff0000"/><circle cx="288.0" cy="1525.1" r="5.25" fill="#ff0000"/><circle cx="325.2" cy="1555.0" r="5.25" fill="#ff0000"/><circle cx="329.6" cy="1557.2" r="5.25" fill="#ff0000"/><circle cx="338.3" cy="1557.2" r="5.25" fill="#ff0000"/><circle cx="342.7" cy="1565.5" r="5.25" fill="#ff0000"/><circle cx="297.2" cy="1568.2" r="5.25" fill="#ff0000"/><circle cx="282.1" cy="1581.6" r="5.25" fill="#ff0000"/><circle cx="319.3" cy="1570.4" r="5.25" fill="#ff0000"/><circle cx="316.4" cy="1572.6" r="5.25" fill="#ff0000"/><circle cx="333.6" cy="1591.1" r="5.25" fill="#ff0000"/><circle cx="339.1" cy="1589.8" r="5.25" fill="#ff0000"/><circle cx="279.6" cy="1601.2" r="5.25" fill="#ff0000"/><circle cx="291.6" cy="1604.2" r="5.25" fill="#ff0000"/><circle cx="282.3" cy="1614.2" r="5.25" fill="#ff0000"/><circle cx="282.1" cy="1619.3" r="5.25" fill="#ff0000"/><circle cx="274.5" cy="1622.2" r="5.25" fill="#ff0000"/><circle cx="264.3" cy="1628.5" r="5.25" fill="#ff0000"/><circle cx="254.1" cy="1626.6" r="5.25" fill="#ff0000"/><circle cx="344.7" cy="1617.6" r="5.25" fill="#ff0000"/><circle cx="243.0" cy="1658.8" r="5.25" fill="#ff0000"/><circle cx="266.4" cy="1674.2" r="5.25" fill="#ff0000"/></g>
<line x1="106.00" y1="1713.40" x2="613.50" y2="1205.50" stroke="#000" stroke-width="1.42" stroke-dasharray="27.9 10.1"/>
<path d="M844.40,1205.50V1713.40H1352.00" fill="none" stroke="#000" stroke-width="1.25"/>
<path d="M844.40,1713.40v7.2M945.92,1713.40v7.2M1047.44,1713.40v7.2M1148.96,1713.40v7.2M1250.48,1713.40v7.2M1352.00,1713.40v7.2M844.40,1713.40h-5.8M844.40,1611.82h-5.8M844.40,1510.24h-5.8M844.40,1408.66h-5.8M844.40,1307.08h-5.8M844.40,1205.50h-5.8" stroke="#000" stroke-width="1.25" fill="none"/>
<text x="844.40" y="1753.90" text-anchor="middle" font-size="24">0.0</text>
<text x="945.92" y="1753.90" text-anchor="middle" font-size="24">0.1</text>
<text x="1047.44" y="1753.90" text-anchor="middle" font-size="24">0.2</text>
<text x="1148.96" y="1753.90" text-anchor="middle" font-size="24">0.3</text>
<text x="1250.48" y="1753.90" text-anchor="middle" font-size="24">0.4</text>
<text x="1352.00" y="1753.90" text-anchor="middle" font-size="24">0.5</text>
<text x="827.90" y="1721.70" text-anchor="end" font-size="24">0.0</text>
<text x="827.90" y="1620.12" text-anchor="end" font-size="24">0.1</text>
<text x="827.90" y="1518.54" text-anchor="end" font-size="24">0.2</text>
<text x="827.90" y="1416.96" text-anchor="end" font-size="24">0.3</text>
<text x="827.90" y="1315.38" text-anchor="end" font-size="24">0.4</text>
<text x="827.90" y="1213.80" text-anchor="end" font-size="24">0.5</text>
<line x1="958.00" y1="1592.00" x2="1149.60" y2="1395.50" stroke="#000" stroke-width="2.8" stroke-linecap="round"/>
<line x1="956.10" y1="1598.70" x2="1106.30" y2="1441.10" stroke="#1a64e6" stroke-width="2.8" stroke-linecap="round"/>
<line x1="1014.50" y1="1575.10" x2="1241.70" y2="1293.20" stroke="#ff0000" stroke-width="2.8" stroke-linecap="round"/>
<g stroke="#000" stroke-width="1.2"><circle cx="1139.5" cy="1406.0" r="5.25" fill="#fff"/><circle cx="1149.0" cy="1437.5" r="5.25" fill="#fff"/><circle cx="1085.9" cy="1449.5" r="5.25" fill="#fff"/><circle cx="1100.3" cy="1428.5" r="5.25" fill="#fff"/><circle cx="1098.6" cy="1470.0" r="5.25" fill="#fff"/><circle cx="1028.1" cy="1429.3" r="5.25" fill="#fff"/><circle cx="1056.0" cy="1465.9" r="5.25" fill="#fff"/><circle cx="1067.8" cy="1465.9" r="5.25" fill="#fff"/><circle cx="1074.6" cy="1464.0" r="5.25" fill="#fff"/><circle cx="1072.1" cy="1469.6" r="5.25" fill="#fff"/><circle cx="1066.6" cy="1479.6" r="5.25" fill="#fff"/><circle cx="1052.3" cy="1481.4" r="5.25" fill="#fff"/><circle cx="1048.6" cy="1492.0" r="5.25" fill="#fff"/><circle cx="1057.9" cy="1506.9" r="5.25" fill="#fff"/><circle cx="1031.2" cy="1521.1" r="5.25" fill="#fff"/><circle cx="1040.5" cy="1529.8" r="5.25" fill="#fff"/><circle cx="1035.5" cy="1534.8" r="5.25" fill="#fff"/><circle cx="1028.1" cy="1534.2" r="5.25" fill="#fff"/><circle cx="1026.2" cy="1542.2" r="5.25" fill="#fff"/><circle cx="1008.9" cy="1541.0" r="5.25" fill="#fff"/><circle cx="1004.5" cy="1545.3" r="5.25" fill="#fff"/><circle cx="1014.5" cy="1548.4" r="5.25" fill="#fff"/><circle cx="993.4" cy="1559.0" r="5.25" fill="#fff"/><circle cx="1004.5" cy="1561.5" r="5.25" fill="#fff"/><circle cx="997.1" cy="1571.4" r="5.25" fill="#fff"/><circle cx="982.8" cy="1570.8" r="5.25" fill="#fff"/><circle cx="1024.4" cy="1560.2" r="5.25" fill="#fff"/><circle cx="1030.6" cy="1555.9" r="5.25" fill="#fff"/><circle cx="985.3" cy="1593.7" r="5.25" fill="#fff"/><circle cx="1103.8" cy="1431.8" r="5.25" fill="#0064ff"/><circle cx="1106.5" cy="1431.2" r="5.25" fill="#0064ff"/><circle cx="1077.7" cy="1453.5" r="5.25" fill="#0064ff"/><circle cx="1096.7" cy="1456.0" r="5.25" fill="#0064ff"/><circle cx="1080.8" cy="1475.8" r="5.25" fill="#0064ff"/><circle cx="1051.7" cy="1475.2" r="5.25" fill="#0064ff"/><circle cx="1074.0" cy="1493.2" r="5.25" fill="#0064ff"/><circle cx="1034.9" cy="1498.2" r="5.25" fill="#0064ff"/><circle cx="1041.7" cy="1499.4" r="5.25" fill="#0064ff"/><circle cx="1045.5" cy="1506.9" r="5.25" fill="#0064ff"/><circle cx="1046.7" cy="1509.3" r="5.25" fill="#0064ff"/><circle cx="1017.6" cy="1520.5" r="5.25" fill="#0064ff"/><circle cx="1012.0" cy="1528.0" r="5.25" fill="#0064ff"/><circle cx="1020.7" cy="1541.6" r="5.25" fill="#0064ff"/><circle cx="1008.9" cy="1547.2" r="5.25" fill="#0064ff"/><circle cx="1005.8" cy="1553.4" r="5.25" fill="#0064ff"/><circle cx="996.5" cy="1552.8" r="5.25" fill="#0064ff"/><circle cx="986.5" cy="1554.0" r="5.25" fill="#0064ff"/><circle cx="1001.4" cy="1563.9" r="5.25" fill="#0064ff"/><circle cx="976.0" cy="1567.0" r="5.25" fill="#0064ff"/><circle cx="970.4" cy="1576.3" r="5.25" fill="#0064ff"/><circle cx="976.0" cy="1581.3" r="5.25" fill="#0064ff"/><circle cx="971.0" cy="1586.3" r="5.25" fill="#0064ff"/><circle cx="957.4" cy="1578.2" r="5.25" fill="#0064ff"/><circle cx="963.6" cy="1588.8" r="5.25" fill="#0064ff"/><circle cx="959.9" cy="1591.2" r="5.25" fill="#0064ff"/><circle cx="988.4" cy="1586.3" r="5.25" fill="#0064ff"/><circle cx="1006.4" cy="1580.1" r="5.25" fill="#0064ff"/><circle cx="1003.3" cy="1588.8" r="5.25" fill="#0064ff"/><circle cx="1128.0" cy="1332.6" r="5.25" fill="#ff0000"/><circle cx="1241.3" cy="1274.8" r="5.25" fill="#ff0000"/><circle cx="1240.1" cy="1305.3" r="5.25" fill="#ff0000"/><circle cx="1218.8" cy="1309.4" r="5.25" fill="#ff0000"/><circle cx="1218.0" cy="1334.8" r="5.25" fill="#ff0000"/><circle cx="1191.4" cy="1335.6" r="5.25" fill="#ff0000"/><circle cx="1196.5" cy="1347.1" r="5.25" fill="#ff0000"/><circle cx="1164.0" cy="1353.0" r="5.25" fill="#ff0000"/><circle cx="1209.6" cy="1373.4" r="5.25" fill="#ff0000"/><circle cx="1165.0" cy="1395.9" r="5.25" fill="#ff0000"/><circle cx="1160.2" cy="1409.2" r="5.25" fill="#ff0000"/><circle cx="1123.4" cy="1421.1" r="5.25" fill="#ff0000"/><circle cx="1116.1" cy="1429.4" r="5.25" fill="#ff0000"/><circle cx="1120.7" cy="1431.6" r="5.25" fill="#ff0000"/><circle cx="1095.8" cy="1432.7" r="5.25" fill="#ff0000"/><circle cx="1108.2" cy="1447.8" r="5.25" fill="#ff0000"/><circle cx="1105.4" cy="1452.6" r="5.25" fill="#ff0000"/><circle cx="1124.4" cy="1457.9" r="5.25" fill="#ff0000"/><circle cx="1097.1" cy="1465.1" r="5.25" fill="#ff0000"/><circle cx="1119.2" cy="1467.1" r="5.25" fill="#ff0000"/><circle cx="1107.2" cy="1471.0" r="5.25" fill="#ff0000"/><circle cx="1085.9" cy="1485.3" r="5.25" fill="#ff0000"/><circle cx="1104.0" cy="1502.3" r="5.25" fill="#ff0000"/><circle cx="1103.0" cy="1506.9" r="5.25" fill="#ff0000"/><circle cx="1121.4" cy="1500.3" r="5.25" fill="#ff0000"/><circle cx="1055.4" cy="1508.1" r="5.25" fill="#ff0000"/><circle cx="1053.5" cy="1510.0" r="5.25" fill="#ff0000"/><circle cx="1073.4" cy="1518.6" r="5.25" fill="#ff0000"/><circle cx="1014.5" cy="1536.0" r="5.25" fill="#ff0000"/><circle cx="1041.7" cy="1539.7" r="5.25" fill="#ff0000"/><circle cx="1047.3" cy="1539.7" r="5.25" fill="#ff0000"/><circle cx="1034.3" cy="1559.6" r="5.25" fill="#ff0000"/><circle cx="1028.1" cy="1604.3" r="5.25" fill="#ff0000"/></g>
<line x1="844.40" y1="1713.40" x2="1352.00" y2="1205.50" stroke="#000" stroke-width="1.42" stroke-dasharray="27.9 10.1"/>
<path d="M106.00,1808.80V2317.00H613.30" fill="none" stroke="#000" stroke-width="1.25"/>
<path d="M106.00,2317.00v7.2M207.46,2317.00v7.2M308.92,2317.00v7.2M410.38,2317.00v7.2M511.84,2317.00v7.2M613.30,2317.00v7.2M106.00,2317.00h-5.8M106.00,2215.36h-5.8M106.00,2113.72h-5.8M106.00,2012.08h-5.8M106.00,1910.44h-5.8M106.00,1808.80h-5.8" stroke="#000" stroke-width="1.25" fill="none"/>
<text x="106.00" y="2357.50" text-anchor="middle" font-size="24">0</text>
<text x="207.46" y="2357.50" text-anchor="middle" font-size="24">10</text>
<text x="308.92" y="2357.50" text-anchor="middle" font-size="24">20</text>
<text x="410.38" y="2357.50" text-anchor="middle" font-size="24">30</text>
<text x="511.84" y="2357.50" text-anchor="middle" font-size="24">40</text>
<text x="613.30" y="2357.50" text-anchor="middle" font-size="24">50</text>
<text x="89.50" y="2325.30" text-anchor="end" font-size="24">0</text>
<text x="89.50" y="2223.66" text-anchor="end" font-size="24">10</text>
<text x="89.50" y="2122.02" text-anchor="end" font-size="24">20</text>
<text x="89.50" y="2020.38" text-anchor="end" font-size="24">30</text>
<text x="89.50" y="1918.74" text-anchor="end" font-size="24">40</text>
<text x="89.50" y="1817.10" text-anchor="end" font-size="24">50</text>
<line x1="356.40" y1="2073.70" x2="530.60" y2="1880.70" stroke="#000" stroke-width="2.8" stroke-linecap="round"/>
<line x1="356.00" y1="2068.00" x2="548.10" y2="1870.80" stroke="#1a64e6" stroke-width="2.8" stroke-linecap="round"/>
<line x1="309.40" y1="2129.70" x2="510.50" y2="1918.20" stroke="#ff0000" stroke-width="2.8" stroke-linecap="round"/>
<g stroke="#000" stroke-width="1.2"><circle cx="494.5" cy="1887.6" r="5.25" fill="#fff"/><circle cx="489.6" cy="1899.8" r="5.25" fill="#fff"/><circle cx="479.5" cy="1905.8" r="5.25" fill="#fff"/><circle cx="469.5" cy="1909.5" r="5.25" fill="#fff"/><circle cx="522.3" cy="1881.8" r="5.25" fill="#fff"/><circle cx="530.9" cy="1874.8" r="5.25" fill="#fff"/><circle cx="535.3" cy="1887.0" r="5.25" fill="#fff"/><circle cx="489.5" cy="1922.1" r="5.25" fill="#fff"/><circle cx="486.7" cy="1936.9" r="5.25" fill="#fff"/><circle cx="483.8" cy="1942.0" r="5.25" fill="#fff"/><circle cx="459.3" cy="1948.6" r="5.25" fill="#fff"/><circle cx="450.5" cy="1948.6" r="5.25" fill="#fff"/><circle cx="472.4" cy="1959.6" r="5.25" fill="#fff"/><circle cx="471.0" cy="1967.6" r="5.25" fill="#fff"/><circle cx="468.8" cy="1971.2" r="5.25" fill="#fff"/><circle cx="449.1" cy="1972.0" r="5.25" fill="#fff"/><circle cx="447.6" cy="1982.2" r="5.25" fill="#fff"/><circle cx="456.4" cy="1983.6" r="5.25" fill="#fff"/><circle cx="429.3" cy="1981.5" r="5.25" fill="#fff"/><circle cx="386.3" cy="2017.2" r="5.25" fill="#fff"/><circle cx="402.3" cy="2009.9" r="5.25" fill="#fff"/><circle cx="395.0" cy="2019.4" r="5.25" fill="#fff"/><circle cx="398.7" cy="2038.4" r="5.25" fill="#fff"/><circle cx="356.9" cy="2086.0" r="5.25" fill="#fff"/><circle cx="512.7" cy="1893.8" r="5.25" fill="#0064ff"/><circle cx="547.7" cy="1892.9" r="5.25" fill="#0064ff"/><circle cx="543.4" cy="1882.8" r="5.25" fill="#0064ff"/><circle cx="482.4" cy="1907.2" r="5.25" fill="#0064ff"/><circle cx="473.2" cy="1914.4" r="5.25" fill="#0064ff"/><circle cx="453.9" cy="1933.3" r="5.25" fill="#0064ff"/><circle cx="452.7" cy="1941.3" r="5.25" fill="#0064ff"/><circle cx="448.3" cy="1945.0" r="5.25" fill="#0064ff"/><circle cx="468.8" cy="1942.0" r="5.25" fill="#0064ff"/><circle cx="475.3" cy="1950.8" r="5.25" fill="#0064ff"/><circle cx="482.3" cy="1951.5" r="5.25" fill="#0064ff"/><circle cx="501.4" cy="1930.4" r="5.25" fill="#0064ff"/><circle cx="448.6" cy="1960.0" r="5.25" fill="#0064ff"/><circle cx="469.5" cy="1961.5" r="5.25" fill="#0064ff"/><circle cx="459.3" cy="1971.2" r="5.25" fill="#0064ff"/><circle cx="452.0" cy="1975.6" r="5.25" fill="#0064ff"/><circle cx="453.4" cy="1981.5" r="5.25" fill="#0064ff"/><circle cx="435.6" cy="1988.0" r="5.25" fill="#0064ff"/><circle cx="409.6" cy="1995.3" r="5.25" fill="#0064ff"/><circle cx="415.5" cy="2001.2" r="5.25" fill="#0064ff"/><circle cx="428.6" cy="2007.0" r="5.25" fill="#0064ff"/><circle cx="395.8" cy="2028.9" r="5.25" fill="#0064ff"/><circle cx="372.8" cy="2034.0" r="5.25" fill="#0064ff"/><circle cx="372.8" cy="2041.3" r="5.25" fill="#0064ff"/><circle cx="366.8" cy="2054.9" r="5.25" fill="#0064ff"/><circle cx="357.4" cy="2058.5" r="5.25" fill="#0064ff"/><circle cx="356.9" cy="2082.7" r="5.25" fill="#0064ff"/><circle cx="375.9" cy="2069.4" r="5.25" fill="#0064ff"/><circle cx="397.2" cy="2053.3" r="5.25" fill="#0064ff"/><circle cx="496.6" cy="1923.6" r="5.25" fill="#ff0000"/><circle cx="509.9" cy="1929.2" r="5.25" fill="#ff0000"/><circle cx="463.2" cy="1954.2" r="5.25" fill="#ff0000"/><circle cx="457.1" cy="1962.5" r="5.25" fill="#ff0000"/><circle cx="430.4" cy="1975.2" r="5.25" fill="#ff0000"/><circle cx="418.1" cy="1994.6" r="5.25" fill="#ff0000"/><circle cx="427.9" cy="1994.6" r="5.25" fill="#ff0000"/><circle cx="445.0" cy="1992.4" r="5.25" fill="#ff0000"/><circle cx="439.6" cy="1999.0" r="5.25" fill="#ff0000"/><circle cx="447.6" cy="2001.2" r="5.25" fill="#ff0000"/><circle cx="435.9" cy="2005.5" r="5.25" fill="#ff0000"/><circle cx="406.0" cy="2001.9" r="5.25" fill="#ff0000"/><circle cx="413.3" cy="2012.1" r="5.25" fill="#ff0000"/><circle cx="398.7" cy="2017.2" r="5.25" fill="#ff0000"/><circle cx="422.0" cy="2016.5" r="5.25" fill="#ff0000"/><circle cx="415.5" cy="2020.9" r="5.25" fill="#ff0000"/><circle cx="419.1" cy="2024.5" r="5.25" fill="#ff0000"/><circle cx="425.7" cy="2027.4" r="5.25" fill="#ff0000"/><circle cx="411.8" cy="2029.6" r="5.25" fill="#ff0000"/><circle cx="411.1" cy="2036.2" r="5.25" fill="#ff0000"/><circle cx="385.1" cy="2028.9" r="5.25" fill="#ff0000"/><circle cx="396.4" cy="2043.9" r="5.25" fill="#ff0000"/><circle cx="400.3" cy="2041.5" r="5.25" fill="#ff0000"/><circle cx="392.1" cy="2050.5" r="5.25" fill="#ff0000"/><circle cx="397.2" cy="2058.4" r="5.25" fill="#ff0000"/><circle cx="310.4" cy="2136.3" r="5.25" fill="#ff0000"/><circle cx="325.1" cy="2107.8" r="5.25" fill="#ff0000"/><circle cx="334.6" cy="2113.5" r="5.25" fill="#ff0000"/><circle cx="331.3" cy="2091.2" r="5.25" fill="#ff0000"/><circle cx="338.9" cy="2095.0" r="5.25" fill="#ff0000"/><circle cx="338.4" cy="2101.7" r="5.25" fill="#ff0000"/><circle cx="362.1" cy="2072.3" r="5.25" fill="#ff0000"/><circle cx="367.8" cy="2082.2" r="5.25" fill="#ff0000"/><circle cx="375.9" cy="2065.1" r="5.25" fill="#ff0000"/></g>
<line x1="106.00" y1="2317.00" x2="613.30" y2="1808.80" stroke="#000" stroke-width="1.42" stroke-dasharray="27.9 10.1"/>
<text transform="translate(121.20,40.5) scale(0.973,1)" font-size="50" font-weight="bold">A</text>
<text transform="translate(862.07,36.3) scale(0.925,1)" font-size="50" font-weight="bold">B</text>
<text transform="translate(120.32,627.0) scale(0.9,1)" font-size="50" font-weight="bold">C</text>
<text transform="translate(857.96,628.0) scale(0.9,1)" font-size="50" font-weight="bold">D</text>
<text transform="translate(126.42,1231.8) scale(0.91,1)" font-size="50" font-weight="bold">E</text>
<text transform="translate(860.63,1231.8) scale(0.88,1)" font-size="50" font-weight="bold">F</text>
<text transform="translate(118.61,1834.8) scale(0.95,1)" font-size="50" font-weight="bold">G</text>
<text transform="translate(25.2,268.8) rotate(-90)" text-anchor="middle" font-size="30.2">Sn2<tspan font-size="19.5" dy="8.5">T,SS</tspan><tspan dy="-8.5"> (1/s)</tspan></text>
<text transform="translate(755.9,267.4) rotate(-90)" text-anchor="middle" font-size="30.2">Sn2<tspan font-size="19.5" dy="8.5">V,SS</tspan><tspan dy="-8.5"> (1/ml)</tspan></text>
<text transform="translate(25.2,862.3) rotate(-90)" text-anchor="middle" font-size="30.2">Sn3<tspan font-size="19.5" dy="8.5">T,SS</tspan><tspan dy="-8.5"> (1/s)</tspan></text>
<text transform="translate(755.9,862.3) rotate(-90)" text-anchor="middle" font-size="30.2">Sn3<tspan font-size="19.5" dy="8.5">V,SS</tspan><tspan dy="-8.5"> (1/ml)</tspan></text>
<text transform="translate(25.2,1459.6) rotate(-90)" text-anchor="middle" font-size="30.2">VnDF<tspan font-size="19.5" dy="8.5">SS</tspan><tspan dy="-8.5"></tspan></text>
<text transform="translate(755.9,1459.6) rotate(-90)" text-anchor="middle" font-size="30.2">VnDB<tspan font-size="19.5" dy="8.5">SS</tspan><tspan dy="-8.5"></tspan></text>
<text transform="translate(25.3,2061.0) rotate(-90)" text-anchor="middle" font-size="30.2">ETCO<tspan font-size="19.5" dy="8.5">2,SS</tspan><tspan dy="-8.5"> (mmHg)</tspan></text>
<text x="601.8" y="507.2" text-anchor="end" font-size="30.2">Sn2<tspan font-size="19.5" dy="8.5">T,MS</tspan><tspan dy="-8.5"> (1/s)</tspan></text>
<text x="1352.2" y="499.3" text-anchor="end" font-size="30.2">Sn2<tspan font-size="19.5" dy="8.5">V,MS</tspan><tspan dy="-8.5"> (1/ml)</tspan></text>
<text x="616.9" y="1090.9" text-anchor="end" font-size="30.2">Sn3<tspan font-size="19.5" dy="8.5">T,MS</tspan><tspan dy="-8.5"> (1/s)</tspan></text>
<text x="1353.8" y="1090.1" text-anchor="end" font-size="30.2">Sn3<tspan font-size="19.5" dy="8.5">V,MS</tspan><tspan dy="-8.5"> (1/ml)</tspan></text>
<text x="614.2" y="1692.7" text-anchor="end" font-size="29.6">VnDF<tspan font-size="19.5" dy="8.5">MS</tspan><tspan dy="-8.5"></tspan></text>
<text x="1350.2" y="1690.6" text-anchor="end" font-size="29.6">VnDB<tspan font-size="19.5" dy="8.5">MS</tspan><tspan dy="-8.5"></tspan></text>
<text x="629.4" y="2293.3" text-anchor="end" font-size="30.2">ETCO<tspan font-size="19.5" dy="8.5">2,MS</tspan><tspan dy="-8.5"> (mmHg)</tspan></text>
<text x="126.0" y="90.7" font-size="23.7" fill="#0000ff">r=0.93, p&lt;0.001</text>
<text x="126.0" y="120.6" font-size="23.7" fill="#000">r=0.90, p&lt;0.001</text>
<text x="126.0" y="150.5" font-size="23.7" fill="#ff0000">r=0.91, p&lt;0.001</text>
<text x="860.9" y="91.1" font-size="23.7" fill="#0000ff">r=0.74, p&lt;0.001</text>
<text x="860.9" y="123.0" font-size="23.7" fill="#000">r=0.68, p&lt;0.001</text>
<text x="860.9" y="153.4" font-size="23.7" fill="#ff0000">r=0.48, p=0.004</text>
<text x="122.4" y="667.0" font-size="23.7" fill="#0000ff">r=0.93, p&lt;0.001</text>
<text x="122.4" y="697.7" font-size="23.7" fill="#000">r=0.96, p&lt;0.001</text>
<text x="122.4" y="727.6" font-size="23.7" fill="#ff0000" font-style="italic">r=0.69, p&lt;0.001<tspan font-size="15" dy="-12" font-weight="bold">*#</tspan></text>
<text x="864.3" y="669.2" font-size="23.7" fill="#0000ff">r=0.89, p&lt;0.001</text>
<text x="864.3" y="697.7" font-size="23.7" fill="#000">r=0.81, p&lt;0.001</text>
<text x="864.3" y="728.3" font-size="23.7" fill="#ff0000">r=0.89, p&lt;0.001</text>
<text x="124.3" y="1279.2" font-size="23.7" fill="#0000ff">r=0.81, p&lt;0.001</text>
<text x="124.3" y="1309.1" font-size="23.7" fill="#000">r=0.76, p&lt;0.001</text>
<text x="124.3" y="1337.3" font-size="23.7" fill="#ff0000" font-style="italic">r=0.89, p&lt;0.001<tspan font-size="15" dy="-12" font-weight="bold">#</tspan></text>
<text x="864.3" y="1278.0" font-size="23.7" fill="#0000ff">r=0.96, p&lt;0.001</text>
<text x="864.3" y="1307.2" font-size="23.7" fill="#000">r=0.90, p&lt;0.001</text>
<text x="864.3" y="1336.4" font-size="23.7" fill="#ff0000">r=0.93, p&lt;0.001</text>
<text x="126.0" y="1880.7" font-size="23.7" fill="#0000ff">r=0.95, p&lt;0.001</text>
<text x="126.0" y="1912.0" font-size="23.7" fill="#000">r=0.94, p&lt;0.001</text>
<text x="126.0" y="1943.4" font-size="23.7" fill="#ff0000">r=0.97, p&lt;0.001</text>
<circle cx="957.3" cy="2031.5" r="4.85" fill="#0064ff" stroke="#000" stroke-width="1.2"/>
<text x="1007.3" y="2041.8" font-size="29.7">Low</text>
<circle cx="957.3" cy="2064.3" r="4.85" fill="#fff" stroke="#000" stroke-width="1.2"/>
<text x="1007.3" y="2074.7" font-size="29.7">Medium</text>
<circle cx="957.3" cy="2097.2" r="4.85" fill="#ff0000" stroke="#000" stroke-width="1.2"/>
<text x="1007.3" y="2107.5" font-size="29.7">High</text>
</svg>
</body></html>
